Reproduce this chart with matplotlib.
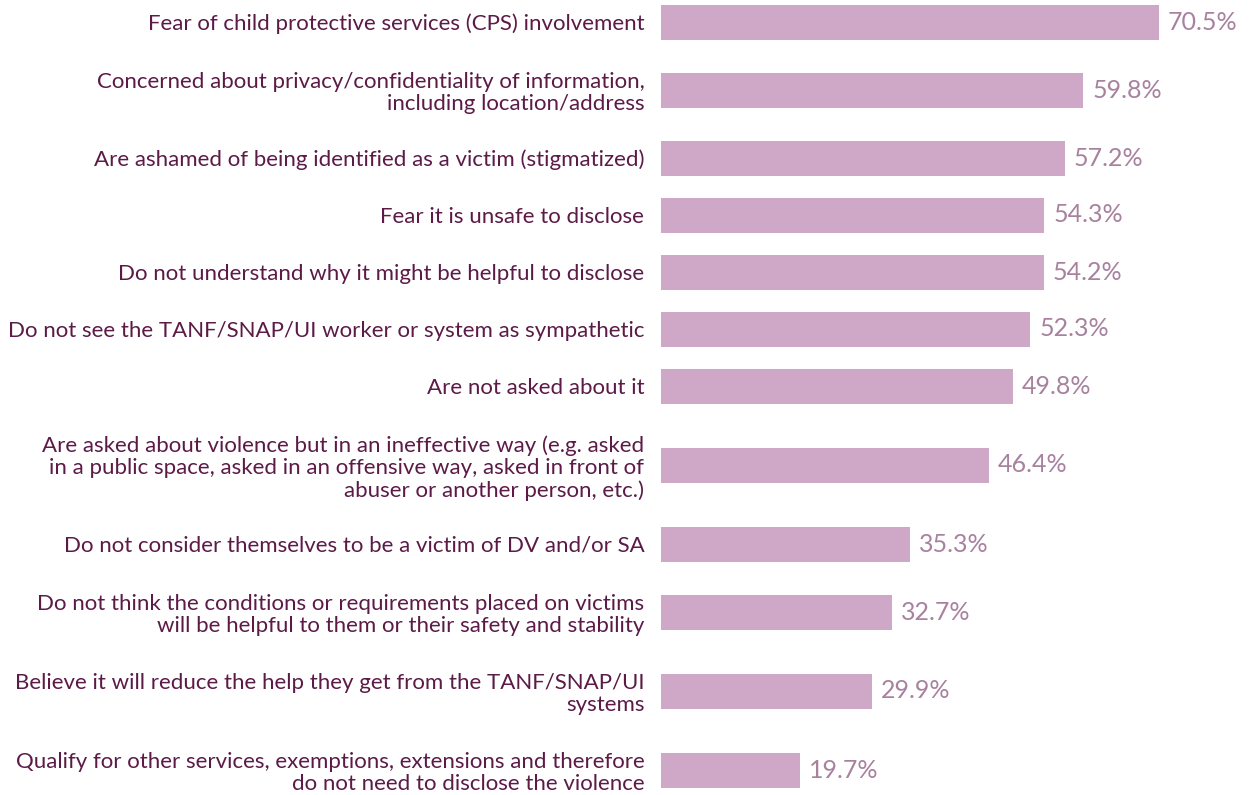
import matplotlib.pyplot as plt

labels = [
    "Fear of child protective services (CPS) involvement",
    "Concerned about privacy/confidentiality of information,\nincluding location/address",
    "Are ashamed of being identified as a victim (stigmatized)",
    "Fear it is unsafe to disclose",
    "Do not understand why it might be helpful to disclose",
    "Do not see the TANF/SNAP/UI worker or system as sympathetic",
    "Are not asked about it",
    "Are asked about violence but in an ineffective way (e.g. asked\nin a public space, asked in an offensive way, asked in front of\nabuser or another person, etc.)",
    "Do not consider themselves to be a victim of DV and/or SA",
    "Do not think the conditions or requirements placed on victims\nwill be helpful to them or their safety and stability",
    "Believe it will reduce the help they get from the TANF/SNAP/UI\nsystems",
    "Qualify for other services, exemptions, extensions and therefore\ndo not need to disclose the violence",
]
values = [70.5, 59.8, 57.2, 54.3, 54.2, 52.3, 49.8, 46.4, 35.3, 32.7, 29.9, 19.7]

bar_color = "#cfa8c8"
label_color = "#5c1a47"
value_color = "#a8819f"
font = "Lato"

# spacing between bars grows with the number of label lines
lines = [l.count("\n") + 1 for l in labels]
pos = [22]
for i in range(1, len(labels)):
    pos.append(pos[-1] + 35 + 11 * (lines[i - 1] + lines[i]))

fig = plt.figure(figsize=(12.54, 7.95), dpi=100)
ax = fig.add_axes([661 / 1254, 0, 1 - 661 / 1254, 1])
ax.barh(pos, values, height=35, color=bar_color)
ax.set_xlim(0, 84)
ax.set_ylim(795, 0)

for y, v in zip(pos, values):
    ax.text(v + 1.3, y, f"{v:.1f}%", va="center", ha="left",
            color=value_color, fontsize=18, family=font)

ax.set_yticks(pos)
ax.set_yticklabels(labels, fontsize=16, color=label_color, family=font,
                   linespacing=1.12)
ax.tick_params(axis="y", length=0, pad=12)
ax.set_xticks([])
for s in ax.spines.values():
    s.set_visible(False)

plt.savefig("out.png", dpi=100)
